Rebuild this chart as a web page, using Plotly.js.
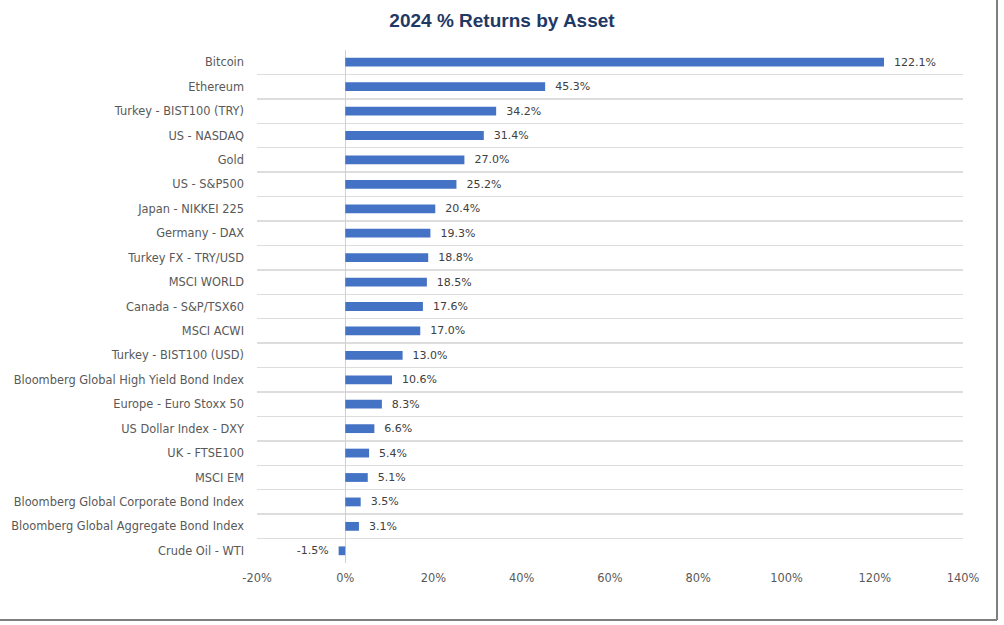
<!DOCTYPE html>
<html>
<head>
<meta charset="utf-8">
<script src="https://cdn.plot.ly/plotly-3.0.1.min.js"></script>
<style>html,body{margin:0;padding:0;background:#fff;}#chart{width:1004px;height:625px;}</style>
</head>
<body>
<div id="chart"></div>
<script>
const assets = [
  "Bitcoin","Ethereum","Turkey - BIST100 (TRY)","US - NASDAQ","Gold","US - S&P500",
  "Japan - NIKKEI 225","Germany - DAX","Turkey FX - TRY/USD","MSCI WORLD",
  "Canada - S&P/TSX60","MSCI ACWI","Turkey - BIST100 (USD)",
  "Bloomberg Global High Yield Bond Index","Europe - Euro Stoxx 50",
  "US Dollar Index - DXY","UK - FTSE100","MSCI EM",
  "Bloomberg Global Corporate Bond Index","Bloomberg Global Aggregate Bond Index",
  "Crude Oil - WTI"
];
const returns2024 = [122.1,45.3,34.2,31.4,27.0,25.2,20.4,19.3,18.8,18.5,17.6,17.0,13.0,10.6,8.3,6.6,5.4,5.1,3.5,3.1,-1.5];
const xTickVals = [-20,0,20,40,60,80,100,120,140];
const xTickText = ["-20%","0%","20%","40%","60%","80%","100%","120%","140%"];

const labelFont = {family: "DejaVu Sans, sans-serif", size: 11.4, color: "#595959"};
const pad = "\u00a0\u00a0";

const trace = {
  type: "bar",
  orientation: "h",
  y: assets,
  x: returns2024,
  text: returns2024.map(v => v < 0 ? v.toFixed(1) + "%" + pad : pad + v.toFixed(1) + "%"),
  textposition: "outside",
  textfont: {family: "DejaVu Sans, sans-serif", size: 11, color: "#404040"},
  constraintext: "none",
  cliponaxis: false,
  marker: {color: "#4472C4"},
  hoverinfo: "none"
};

const layout = {
  width: 1004, height: 625,
  margin: {l: 257, r: 41, t: 50, b: 62},
  paper_bgcolor: "#ffffff",
  plot_bgcolor: "#ffffff",
  bargap: 0.64,
  showlegend: false,
  title: {
    text: "<b>2024 % Returns by Asset</b>",
    x: 0.5, xanchor: "center",
    y: 0.968, yanchor: "middle",
    font: {family: "Liberation Sans, Arial, sans-serif", size: 19, color: "#1F3864"}
  },
  xaxis: {
    range: [-20, 140],
    tickvals: xTickVals,
    ticktext: xTickText,
    showgrid: false,
    zeroline: true,
    zerolinecolor: "#D0D0D0",
    zerolinewidth: 1.5,
    showline: false,
    ticks: "",
    tickfont: labelFont,
    ticklabelstandoff: 7,
    fixedrange: true
  },
  yaxis: {
    type: "category",
    autorange: "reversed",
    tickson: "boundaries",
    showgrid: true,
    gridcolor: "#DDDDDD",
    gridwidth: 1.5,
    ticks: "",
    showline: false,
    tickfont: labelFont,
    ticklabelstandoff: 12,
    automargin: false,
    fixedrange: true
  },
  shapes: [
    {type: "line", xref: "paper", yref: "paper", x0: (997-257)/706, x1: (997-257)/706, y0: (625-62-620)/513, y1: (625-62)/513, line: {color: "#7F7F7F", width: 2}},
    {type: "line", xref: "paper", yref: "paper", x0: -257/706, x1: (997-257)/706, y0: (625-62-620)/513, y1: (625-62-620)/513, line: {color: "#7F7F7F", width: 2}}
  ]
};

Plotly.newPlot("chart", [trace], layout, {displayModeBar: false, staticPlot: true});
</script>
</body>
</html>
